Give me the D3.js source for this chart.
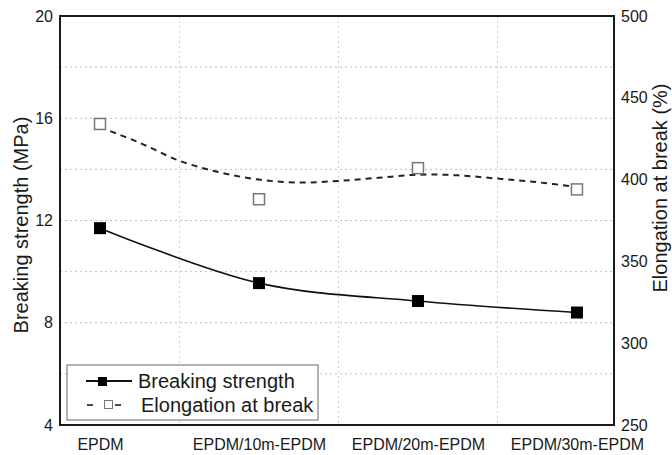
<!DOCTYPE html>
<html>
<head>
<meta charset="utf-8">
<script src="https://cdn.jsdelivr.net/npm/d3@7"></script>
<style>
  body { margin: 0; background: #fff; }
  svg text { font-family: "Liberation Sans", Arial, sans-serif; fill: #1a1a1a; }
</style>
</head>
<body>
<div id="chart"></div>
<script>
// categories and measured values
var categories = ['EPDM', 'EPDM/10m-EPDM', 'EPDM/20m-EPDM', 'EPDM/30m-EPDM'];
var strength = [11.7, 9.55, 8.85, 8.4];        // MPa
var elongation = [434, 388, 407, 394];         // %
// dashed trend line at category positions
var elongFitX = [0, 0.25, 0.5, 0.75, 1, 1.25, 1.5, 1.75, 2, 2.25, 2.5, 2.75, 3];
var elongFitY = [432, 422.5, 411.5, 404.5, 400, 398.2, 399.2, 401.1, 403, 402.6, 400.6, 398.4, 395.5];
var leftTicks = [4, 8, 12, 16, 20];
var rightTicks = [250, 300, 350, 400, 450, 500];

var width = 672, height = 455;
var margin = { left: 60, right: 58, top: 16, bottom: 30 };
var plotW = width - margin.left - margin.right;
var plotH = height - margin.top - margin.bottom;

var svg = d3.select('#chart').append('svg')
    .attr('width', width)
    .attr('height', height);
var g = svg.append('g')
    .attr('transform', 'translate(' + margin.left + ',' + margin.top + ')');

var x = d3.scaleLinear().domain([-0.2516, 3.233]).range([0, plotW]);
var yL = d3.scaleLinear().domain([4, 20]).range([plotH, 0]);
var yR = d3.scaleLinear().domain([250, 500]).range([plotH, 0]);

// grid
var hGrid = d3.range(6, 20, 2);
g.selectAll('.hgrid').data(hGrid).enter().append('line')
    .attr('x1', 0).attr('x2', plotW)
    .attr('y1', function (d) { return yL(d); })
    .attr('y2', function (d) { return yL(d); })
    .attr('stroke', '#bdbdbd').attr('stroke-width', 1)
    .attr('stroke-dasharray', '2,3');
g.selectAll('.vgrid').data([0.5, 1.5, 2.5]).enter().append('line')
    .attr('y1', 0).attr('y2', plotH)
    .attr('x1', function (d) { return x(d); })
    .attr('x2', function (d) { return x(d); })
    .attr('stroke', '#d0d0d0').attr('stroke-width', 1)
    .attr('stroke-dasharray', '2,3');

// axes (labels only, frame drawn separately)
var axL = d3.axisLeft(yL).tickValues(leftTicks).tickSize(0).tickPadding(7);
var axR = d3.axisRight(yR).tickValues(rightTicks).tickSize(0).tickPadding(7);
var axB = d3.axisBottom(x).tickValues(d3.range(categories.length))
    .tickFormat(function (d) { return categories[d]; }).tickSize(0).tickPadding(14);

function styleAxis(sel) {
    sel.select('.domain').remove();
    sel.selectAll('text').style('font-size', '16px').attr('fill', '#1a1a1a');
}
g.append('g').call(axL).call(styleAxis);
g.append('g').attr('transform', 'translate(' + plotW + ',0)').call(axR).call(styleAxis);
g.append('g').attr('transform', 'translate(0,' + plotH + ')').call(axB).call(styleAxis);

// frame
g.append('rect')
    .attr('width', plotW).attr('height', plotH)
    .attr('fill', 'none').attr('stroke', '#1a1a1a').attr('stroke-width', 2);

// lines
var strengthLine = d3.line()
    .x(function (d, i) { return x(i); })
    .y(function (d) { return yL(d); })
    .curve(d3.curveCatmullRom);
g.append('path').datum(strength)
    .attr('d', strengthLine)
    .attr('fill', 'none').attr('stroke', '#111').attr('stroke-width', 1.6);

var fitLine = d3.line()
    .x(function (d) { return x(d); })
    .y(function (d, i) { return yR(elongFitY[i]); })
    .curve(d3.curveCatmullRom);
g.append('path').datum(elongFitX)
    .attr('d', fitLine)
    .attr('fill', 'none').attr('stroke', '#222').attr('stroke-width', 2)
    .attr('stroke-dasharray', '6,5');

// markers
var ms = 12;
g.selectAll('.sq').data(strength).enter().append('rect')
    .attr('x', function (d, i) { return x(i) - ms / 2; })
    .attr('y', function (d) { return yL(d) - ms / 2; })
    .attr('width', ms).attr('height', ms)
    .attr('fill', '#000');
var mo = 11;
g.selectAll('.osq').data(elongation).enter().append('rect')
    .attr('x', function (d, i) { return x(i) - mo / 2; })
    .attr('y', function (d) { return yR(d) - mo / 2; })
    .attr('width', mo).attr('height', mo)
    .attr('fill', '#fff').attr('stroke', '#777').attr('stroke-width', 1.5);

// axis titles
svg.append('text')
    .attr('transform', 'translate(28,225) rotate(-90)')
    .attr('text-anchor', 'middle')
    .style('font-size', '20px')
    .text('Breaking strength (MPa)');
svg.append('text')
    .attr('transform', 'translate(667,188) rotate(-90)')
    .attr('text-anchor', 'middle')
    .style('font-size', '20px')
    .text('Elongation at break (%)');

// legend
var lg = svg.append('g');
lg.append('rect')
    .attr('x', 67).attr('y', 365).attr('width', 251).attr('height', 55)
    .attr('fill', '#fff').attr('stroke', '#666').attr('stroke-width', 1);
lg.append('line').attr('x1', 86).attr('x2', 132).attr('y1', 381).attr('y2', 381)
    .attr('stroke', '#111').attr('stroke-width', 2);
lg.append('rect').attr('x', 98).attr('y', 377).attr('width', 9).attr('height', 9).attr('fill', '#000');
lg.append('line').attr('x1', 87).attr('x2', 93).attr('y1', 405).attr('y2', 405)
    .attr('stroke', '#111').attr('stroke-width', 1.5);
lg.append('rect').attr('x', 104.5).attr('y', 400.5).attr('width', 8).attr('height', 8)
    .attr('fill', '#fff').attr('stroke', '#777').attr('stroke-width', 1);
lg.append('line').attr('x1', 115).attr('x2', 121).attr('y1', 405).attr('y2', 405)
    .attr('stroke', '#111').attr('stroke-width', 1.5);
lg.append('text').attr('x', 138).attr('y', 388).style('font-size', '20px').text('Breaking strength');
lg.append('text').attr('x', 141).attr('y', 412).style('font-size', '20px').text('Elongation at break');
</script>
</body>
</html>
